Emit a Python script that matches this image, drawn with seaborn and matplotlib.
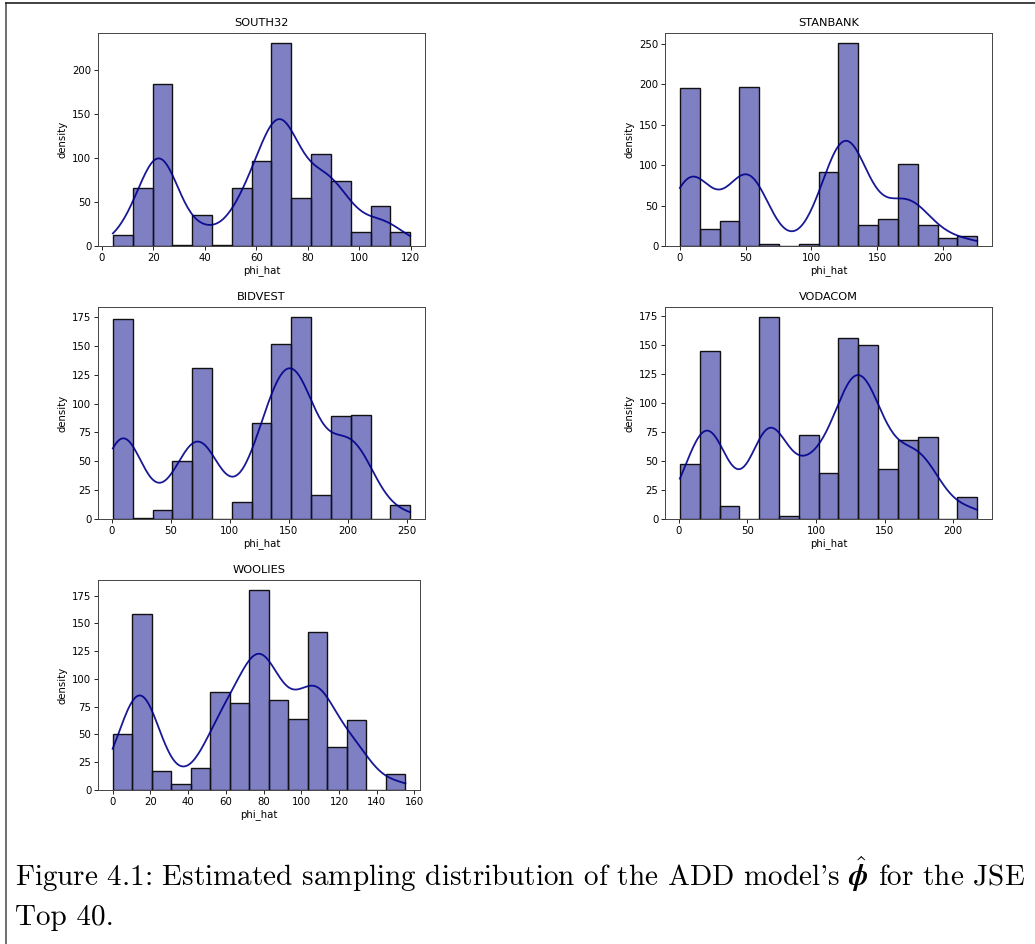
import numpy as np
import pandas as pd
import matplotlib
matplotlib.use("Agg")
import matplotlib.pyplot as plt
import seaborn as sns

# ---- data (15 equal-width bins per stock) ----
stocks = ["SOUTH32", "STANBANK", "BIDVEST", "VODACOM", "WOOLIES"]
x_min = [4.3, 0.0, 0.9, 0.7, 0.0]
x_max = [119.7, 226.0, 253.0, 217.5, 155.2]
south32_counts = [13, 66, 184, 1, 35, 1, 66, 97, 231, 55, 105, 74, 16, 45, 16]
stanbank_counts = [196, 21, 31, 197, 2, 0, 3, 91, 251, 26, 34, 101, 26, 10, 12]
bidvest_counts = [173, 1, 8, 50, 131, 0, 15, 83, 152, 175, 21, 89, 90, 0, 12]
vodacom_counts = [47, 145, 11, 0, 174, 3, 72, 40, 156, 150, 43, 68, 71, 0, 19]
woolies_counts = [50, 158, 17, 5, 20, 88, 78, 180, 81, 64, 142, 39, 63, 0, 14]
counts = [south32_counts, stanbank_counts, bidvest_counts, vodacom_counts, woolies_counts]

caption_line1 = r"Figure 4.1: Estimated sampling distribution of the ADD model's $\hat{\boldsymbol{\phi}}$ for the JSE"
caption_line2 = "Top 40."

# ---- layout (pixel boxes: left, top, right, bottom) ----
W, H = 1035, 944
boxes = [
    (98, 33, 425, 246),
    (665, 33, 992, 246),
    (98, 307, 425, 519),
    (665, 307, 992, 519),
    (98, 580, 420, 790),
]

plt.rcParams["mathtext.fontset"] = "cm"
fig = plt.figure(figsize=(W / 100, H / 100), dpi=100)

for name, lo, hi, cnt, (l, t, r, b) in zip(stocks, x_min, x_max, counts, boxes):
    ax = fig.add_axes([l / W, 1 - b / H, (r - l) / W, (b - t) / H])
    nb = len(cnt)
    edges = np.linspace(lo, hi, nb + 1)
    centers = (edges[:-1] + edges[1:]) / 2
    values = np.repeat(centers, cnt)
    df = pd.DataFrame({"phi_hat": values})
    bw = len(values) ** (-0.2) * values.std(ddof=1)
    cut = ((edges[1] - edges[0]) / 2) / bw
    sns.histplot(data=df, x="phi_hat", bins=edges, color="darkblue", kde=True,
                 kde_kws={"cut": cut}, line_kws={"linewidth": 1.3, "alpha": 0.9}, ax=ax,
                 edgecolor="#111111", linewidth=1.0)
    ax.set_title(name, fontsize=8.2, pad=5)
    ax.set_xlabel("phi_hat", fontsize=7.3, labelpad=2)
    ax.set_ylabel("density", fontsize=7.3, labelpad=3)
    ax.tick_params(labelsize=7.3, length=2.8, width=0.6, pad=2)
    for s in ax.spines.values():
        s.set_linewidth(0.7)
        s.set_color("#444444")

# page frame
fig.add_artist(plt.Line2D([6 / W, 6 / W], [0, 1 - 3 / H], color="#555555", lw=1.2))
fig.add_artist(plt.Line2D([6 / W, 1], [1 - 3 / H, 1 - 3 / H], color="#222222", lw=1.2))

fig.text(15 / W, 1 - 874 / H, caption_line1, family="cmr10", fontsize=21,
         va="center", ha="left")
fig.text(15 / W, 1 - 918 / H, caption_line2, family="cmr10", fontsize=21,
         va="center", ha="left")

fig.savefig("out.png", dpi=100)
